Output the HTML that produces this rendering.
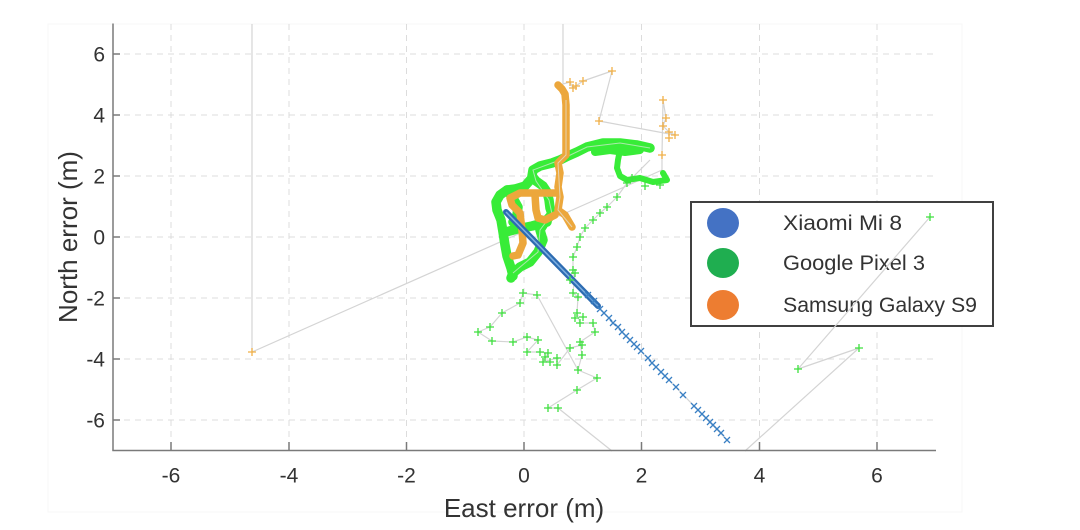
<!DOCTYPE html>
<html><head><meta charset="utf-8"><style>
html,body{margin:0;padding:0;background:#fff;}
svg{display:block;}
text{font-family:"Liberation Sans",sans-serif;fill:#333;}
</style></head><body>
<svg width="1080" height="530" viewBox="0 0 1080 530" xmlns="http://www.w3.org/2000/svg">
<defs>
<path id="pg" d="M-4,0H4M0,-4V4" stroke="#3ee03e" stroke-width="1.3" fill="none"/>
<path id="po" d="M-4,0H4M0,-4V4" stroke="#f0b048" stroke-width="1.3" fill="none"/>
<path id="xb" d="M-3,-3L3,3M-3,3L3,-3" stroke="#3a80c4" stroke-width="1.3" fill="none"/>
</defs>
<rect x="48" y="24" width="914" height="488" fill="none" stroke="#f7f7f7" stroke-width="1"/>
<!-- grid -->
<g stroke="#dcdcdc" stroke-width="1" stroke-dasharray="6,5" fill="none">
<line x1="171" y1="24" x2="171" y2="450"/>
<line x1="289" y1="24" x2="289" y2="450"/>
<line x1="406.5" y1="24" x2="406.5" y2="450"/>
<line x1="524" y1="24" x2="524" y2="450"/>
<line x1="641.5" y1="24" x2="641.5" y2="450"/>
<line x1="759.5" y1="24" x2="759.5" y2="450"/>
<line x1="877" y1="24" x2="877" y2="450"/>
<line x1="113" y1="54" x2="936" y2="54"/>
<line x1="113" y1="115" x2="936" y2="115"/>
<line x1="113" y1="176" x2="936" y2="176"/>
<line x1="113" y1="237" x2="936" y2="237"/>
<line x1="113" y1="298" x2="936" y2="298"/>
<line x1="113" y1="359" x2="936" y2="359"/>
<line x1="113" y1="420" x2="936" y2="420"/>
</g>
<!-- legend (drawn below data) -->
<rect x="691" y="202" width="302" height="124" fill="#fff" stroke="#404040" stroke-width="2"/>
<ellipse cx="723" cy="223" rx="16" ry="15" fill="#4472c4"/>
<ellipse cx="723" cy="263" rx="16" ry="15" fill="#1fae50"/>
<ellipse cx="723" cy="305" rx="16" ry="15" fill="#ed7d31"/>
<g font-size="21" style="fill:#222">
<text x="783" y="230" textLength="119" lengthAdjust="spacingAndGlyphs">Xiaomi Mi 8</text>
<text x="783" y="270" textLength="142" lengthAdjust="spacingAndGlyphs">Google Pixel 3</text>
<text x="783" y="312" textLength="194" lengthAdjust="spacingAndGlyphs">Samsung Galaxy S9</text>
</g>
<!-- gray connecting lines -->
<g stroke="#d4d4d4" stroke-width="1.2" fill="none" stroke-linejoin="round">
<polyline points="252,24 252,352 622,188 662,170 662,155 663,100 666,118 663,126 669,132 675,135 599,121 612,71 583,81 573,88 570,82 563,84 563,24"/>
<polyline points="930,217 798,369 859,348 745,451"/>
<polyline points="650,160 627,183 617,197 607,207 600,213 593,220 585,228 580,237 577,247 573,257 573,270 570,280 575,273 573,293 578,297 577,313 580,323 593,323 595,332 580,342 582,355 578,370"/>
<polyline points="537,295 523,293 520,303 502,313 490,327 478,332 492,341 513,342 527,337 538,340 527,352 540,352 548,353 543,362 557,358 557,365 570,348 582,345"/>
<polyline points="537,295 578,370 597,378 577,390 548,408 558,408 612,451"/>
<line x1="506" y1="212" x2="727" y2="440"/>
</g>
<!-- green thick bands -->
<g stroke="#38ec38" stroke-width="9.5" fill="none" stroke-linejoin="round" stroke-linecap="round">
<polyline points="650,148 637,145 620,143 603,143 587,147 577,152 568,156 560,160 552,163 540,166 533,170 532,176 536,181 543,186 547,192 549,200 550,208 552,214 545,222 540,230 543,240 538,252 530,262 520,267 513,273 511,278"/>
<polyline points="532,178 525,186 515,189 507,190 500,195 496,202 497,210 501,220 503,232 505,245 507,256 511,268 513,276"/>
<polyline points="507,190 513,198 518,207 517,215 513,222"/>
<polyline points="547,222 532,226 517,229 506,232"/>
<polyline points="640,150 625,152 610,150 595,152" stroke-width="8"/>
<polyline points="620,150 618,160 617,168 620,176 627,180 640,178 653,182 667,180 663,173" stroke-width="6"/>
</g>
<g stroke="#c8e8c8" stroke-width="1" fill="none" opacity="0.8">
<polyline points="650,148 620,143 587,147 560,160 533,170 536,181 549,200 552,214 540,230 538,252 513,273"/>
</g>
<!-- orange thick -->
<g stroke="#eca73c" stroke-width="7.5" fill="none" stroke-linejoin="round" stroke-linecap="round">
<polyline points="558,85 562,89 565,94 566,105 566,130 566,155 558,163 560,173 558,187 560,197 558,210 565,215 572,227"/>
<polyline points="558,193 543,193 530,193 520,193 510,198 512,205 520,213 522,230 523,243 518,255 513,256"/>
<polyline points="535,195 536,210 538,218 545,220 555,215"/>
</g>
<g stroke="#e6d3b0" stroke-width="1" fill="none">
<polyline points="566,100 566,155 558,163 560,197 558,210 572,227"/>
</g>
<!-- blue -->
<line x1="506" y1="212" x2="598" y2="306" stroke="#2d6cb2" stroke-width="6" stroke-linecap="round"/>
<line x1="506" y1="212" x2="598" y2="306" stroke="#7fb0e0" stroke-width="1.5"/>
<g>
<use href="#xb" x="600" y="309"/><use href="#xb" x="609" y="318"/><use href="#xb" x="613" y="323"/>
<use href="#xb" x="618" y="327"/><use href="#xb" x="622" y="332"/><use href="#xb" x="626" y="336"/>
<use href="#xb" x="630" y="340"/><use href="#xb" x="634" y="344"/><use href="#xb" x="637" y="347"/>
<use href="#xb" x="641" y="351"/><use href="#xb" x="648" y="358"/><use href="#xb" x="652" y="363"/>
<use href="#xb" x="656" y="367"/><use href="#xb" x="661" y="372"/><use href="#xb" x="665" y="376"/>
<use href="#xb" x="669" y="380"/><use href="#xb" x="676" y="387"/><use href="#xb" x="683" y="395"/>
<use href="#xb" x="694" y="406"/><use href="#xb" x="698" y="410"/><use href="#xb" x="702" y="414"/>
<use href="#xb" x="706" y="418"/><use href="#xb" x="710" y="422"/><use href="#xb" x="713" y="425"/>
<use href="#xb" x="717" y="429"/><use href="#xb" x="721" y="433"/><use href="#xb" x="727" y="440"/>
<use href="#xb" x="588" y="295"/><use href="#xb" x="594" y="301"/><use href="#xb" x="604" y="313"/>
</g>
<!-- green markers -->
<g>
<use href="#pg" x="627" y="183"/><use href="#pg" x="617" y="197"/><use href="#pg" x="607" y="207"/>
<use href="#pg" x="600" y="213"/><use href="#pg" x="593" y="220"/><use href="#pg" x="585" y="228"/>
<use href="#pg" x="580" y="237"/><use href="#pg" x="577" y="247"/><use href="#pg" x="573" y="257"/>
<use href="#pg" x="573" y="270"/><use href="#pg" x="570" y="280"/><use href="#pg" x="575" y="273"/>
<use href="#pg" x="573" y="293"/><use href="#pg" x="578" y="297"/><use href="#pg" x="577" y="313"/>
<use href="#pg" x="580" y="323"/><use href="#pg" x="593" y="323"/><use href="#pg" x="595" y="332"/>
<use href="#pg" x="580" y="342"/><use href="#pg" x="582" y="355"/><use href="#pg" x="578" y="370"/>
<use href="#pg" x="597" y="378"/><use href="#pg" x="577" y="390"/><use href="#pg" x="548" y="408"/>
<use href="#pg" x="558" y="408"/><use href="#pg" x="575" y="318"/><use href="#pg" x="583" y="317"/>
<use href="#pg" x="523" y="293"/><use href="#pg" x="537" y="295"/><use href="#pg" x="520" y="303"/>
<use href="#pg" x="502" y="313"/><use href="#pg" x="490" y="327"/><use href="#pg" x="478" y="332"/>
<use href="#pg" x="492" y="341"/><use href="#pg" x="513" y="342"/><use href="#pg" x="527" y="337"/>
<use href="#pg" x="538" y="340"/><use href="#pg" x="527" y="352"/><use href="#pg" x="540" y="352"/>
<use href="#pg" x="548" y="353"/><use href="#pg" x="543" y="362"/><use href="#pg" x="557" y="358"/>
<use href="#pg" x="557" y="365"/><use href="#pg" x="570" y="348"/><use href="#pg" x="582" y="345"/>
<use href="#pg" x="545" y="357"/><use href="#pg" x="550" y="362"/>
<use href="#pg" x="930" y="217"/><use href="#pg" x="798" y="369"/><use href="#pg" x="859" y="348"/>
<use href="#pg" x="660" y="185"/><use href="#pg" x="645" y="186"/><use href="#pg" x="632" y="178"/>
</g>
<!-- orange markers -->
<g>
<use href="#po" x="570" y="82"/><use href="#po" x="573" y="88"/><use href="#po" x="583" y="81"/>
<use href="#po" x="612" y="71"/><use href="#po" x="599" y="121"/><use href="#po" x="663" y="100"/>
<use href="#po" x="666" y="118"/><use href="#po" x="663" y="126"/><use href="#po" x="669" y="132"/>
<use href="#po" x="675" y="135"/><use href="#po" x="669" y="138"/><use href="#po" x="662" y="155"/>
<use href="#po" x="252" y="352"/><use href="#po" x="576" y="86"/>
</g>
<!-- axes -->
<g stroke="#7a7a7a" stroke-width="1.5" fill="none">
<line x1="113" y1="23.5" x2="113" y2="450.5"/>
<line x1="112.3" y1="450.5" x2="936" y2="450.5"/>
<path d="M113,54H120M113,115H120M113,176H120M113,237H120M113,298H120M113,359H120M113,420H120"/>
<path d="M171,450V442M289,450V442M406.5,450V442M524,450V442M641.5,450V442M759.5,450V442M877,450V442"/>
</g>
<!-- tick labels -->
<g font-size="21" text-anchor="end">
<text x="105" y="61.5">6</text>
<text x="105" y="122.5">4</text>
<text x="105" y="183.5">2</text>
<text x="105" y="244.5">0</text>
<text x="105" y="305.5">-2</text>
<text x="105" y="366.5">-4</text>
<text x="105" y="427.5">-6</text>
</g>
<g font-size="21" text-anchor="middle">
<text x="171" y="482.5">-6</text>
<text x="289" y="482.5">-4</text>
<text x="406.5" y="482.5">-2</text>
<text x="524" y="482.5">0</text>
<text x="641.5" y="482.5">2</text>
<text x="759.5" y="482.5">4</text>
<text x="877" y="482.5">6</text>
</g>
<text x="524" y="517" font-size="26" text-anchor="middle">East error (m)</text>
<text transform="translate(77,237) rotate(-90)" font-size="26" text-anchor="middle">North error (m)</text>
</svg>
</body></html>
